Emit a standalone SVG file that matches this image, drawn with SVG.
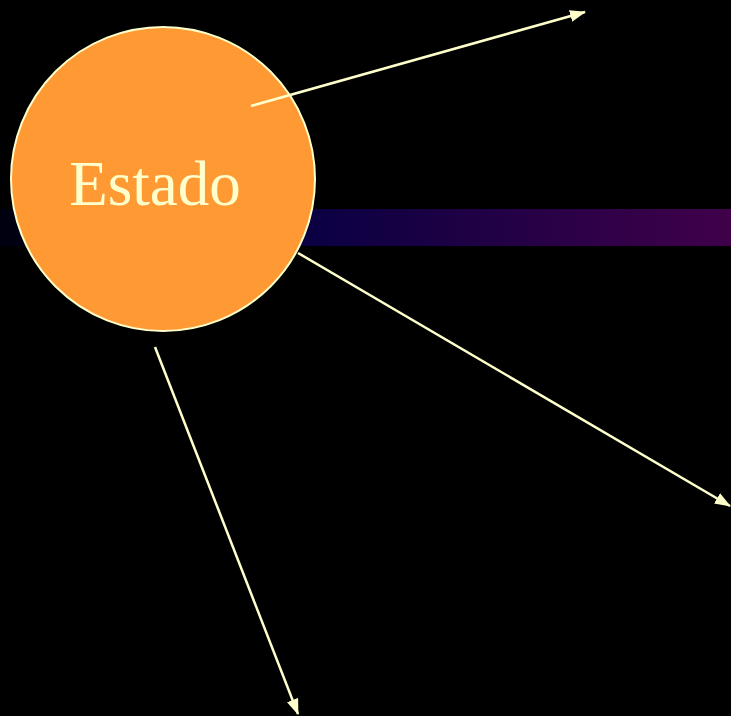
<svg xmlns="http://www.w3.org/2000/svg" width="731" height="716" viewBox="0 0 731 716">
<defs>
<linearGradient id="band" x1="0" y1="0" x2="1" y2="0">
<stop offset="0" stop-color="#000010"/>
<stop offset="0.4" stop-color="#080042"/>
<stop offset="1" stop-color="#40004a"/>
</linearGradient>
<marker id="arr" viewBox="0 0 16 12" refX="15" refY="6" markerWidth="16" markerHeight="12" markerUnits="userSpaceOnUse" orient="auto">
<path d="M0,0 L16,6 L0,12 Z" fill="#ffffcc"/>
</marker>
<style>
.conn{stroke:#ffffcc;stroke-width:2.5;fill:none;marker-end:url(#arr)}
.lbl{font-family:"Liberation Serif","Times New Roman",serif;font-size:63px;fill:#ffffcc}
</style>
</defs>
<rect width="731" height="716" fill="#000000"/>
<rect x="0" y="209" width="731" height="37" fill="url(#band)"/>
<g id="estado">
<circle cx="163" cy="179" r="152" fill="#ff9933" stroke="#ffffcc" stroke-width="2"/>
<text class="lbl" x="155" y="205" text-anchor="middle">Estado</text>
</g>
<g id="connectors">
<line class="conn" x1="251" y1="106" x2="585" y2="12"/>
<line class="conn" x1="298" y1="253" x2="730" y2="506"/>
<line class="conn" x1="155" y1="347" x2="298" y2="714"/>
</g>
</svg>
